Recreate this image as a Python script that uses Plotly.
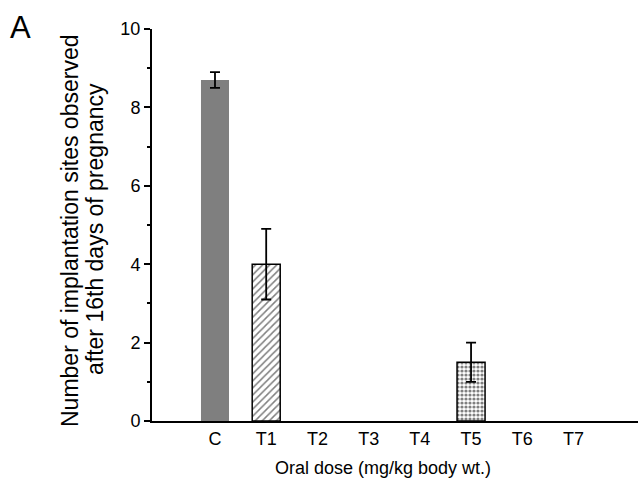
import plotly.graph_objects as go

categories = ["C", "T1", "T2", "T3", "T4", "T5", "T6", "T7"]
values = [8.7, 4.0, 0, 0, 0, 1.5, 0, 0]
errors = [0.2, 0.9, 0, 0, 0, 0.5, 0, 0]
y_ticks = [0, 2, 4, 6, 8, 10]

FONT = "Liberation Sans, Arial, sans-serif"

styles = {
    "C": dict(color="#7f7f7f", line=dict(color="#7f7f7f", width=0)),
    "T1": dict(color="white", line=dict(color="black", width=1.5),
               pattern=dict(shape="/", fgcolor="black", bgcolor="white", size=5, solidity=0.3)),
    "T5": dict(color="white", line=dict(color="black", width=1.5),
               pattern=dict(shape=".", fgcolor="black", bgcolor="white", size=4, solidity=0.5)),
}

fig = go.Figure()
for cat, v, e in zip(categories, values, errors):
    if v <= 0:
        continue
    fig.add_trace(go.Bar(
        x=[cat], y=[v], width=0.547,
        marker=styles[cat],
        error_y=dict(type="data", array=[e], visible=True, color="black", thickness=1.8, width=5),
        showlegend=False,
    ))

fig.update_layout(
    width=639, height=481,
    margin=dict(l=152, r=1, t=29, b=60),
    paper_bgcolor="white", plot_bgcolor="white",
    barmode="overlay",
    font=dict(family=FONT, color="black", size=18),
    xaxis=dict(
        type="category", categoryorder="array", categoryarray=categories,
        range=[-1.23, 8.26],
        showline=True, linecolor="black", linewidth=2,
        ticks="", showgrid=False, zeroline=False,
        tickfont=dict(size=18, family=FONT),
    ),
    yaxis=dict(
        range=[0, 10], tickvals=y_ticks,
        showline=True, linecolor="black", linewidth=2,
        ticks="outside", ticklen=6, tickwidth=2, tickcolor="black",
        minor=dict(dtick=1, ticks="outside", ticklen=3, tickwidth=2, tickcolor="black"),
        showgrid=False, zeroline=False,
        tickfont=dict(size=18, family=FONT),
    ),
    annotations=[
        dict(text="A", xref="paper", yref="paper", x=(8 - 152) / 486, y=(421 - 27) / 392,
             xanchor="left", yanchor="middle", showarrow=False, font=dict(size=31, family=FONT)),
        dict(text="Number of implantation sites observed", xref="paper", yref="paper",
             x=(70 - 152) / 486, y=(421 - 231) / 392, xanchor="center", yanchor="middle",
             textangle=-90, showarrow=False, font=dict(size=23, family=FONT)),
        dict(text="after 16th days of pregnancy", xref="paper", yref="paper",
             x=(95 - 152) / 486, y=(421 - 229) / 392, xanchor="center", yanchor="middle",
             textangle=-90, showarrow=False, font=dict(size=23, family=FONT)),
        dict(text="Oral dose (mg/kg body wt.)", xref="paper", yref="paper",
             x=(383 - 152) / 486, y=(421 - 468) / 392, xanchor="center", yanchor="middle",
             showarrow=False, font=dict(size=18, family=FONT)),
    ],
)

fig.write_html("out.html")
